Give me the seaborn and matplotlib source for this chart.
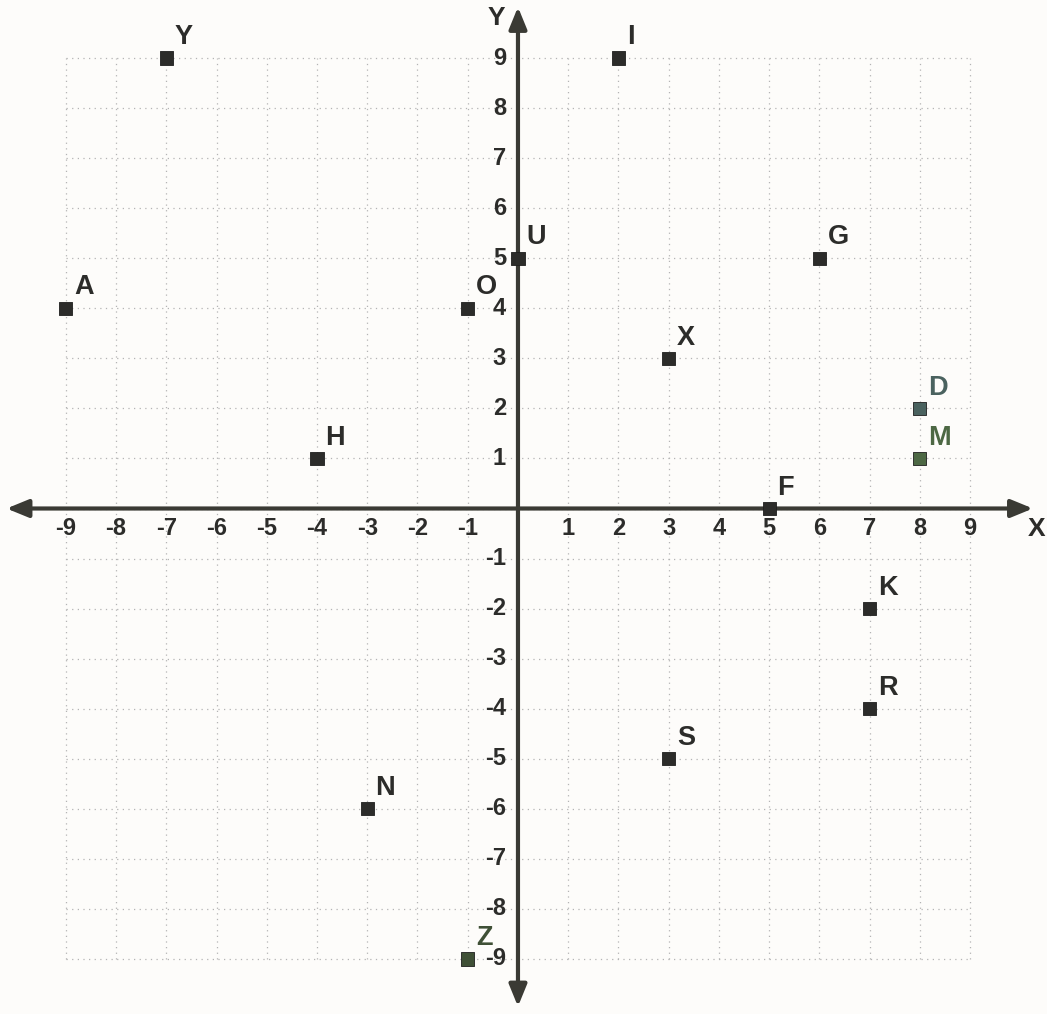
import matplotlib
matplotlib.use("Agg")
import matplotlib.pyplot as plt
import seaborn as sns
import pandas as pd

# ---- data ----
labels = ["Y", "I", "U", "G", "A", "O", "X", "D", "M", "H", "F", "K", "R", "S", "N", "Z"]
x_vals = [-7, 2, 0, 6, -9, -1, 3, 8, 8, -4, 5, 7, 7, 3, -3, -1]
y_vals = [9, 9, 5, 5, 4, 4, 3, 2, 1, 1, 0, -2, -4, -5, -6, -9]
x_ticks = [-9, -8, -7, -6, -5, -4, -3, -2, -1, 1, 2, 3, 4, 5, 6, 7, 8, 9]
y_ticks = [9, 8, 7, 6, 5, 4, 3, 2, 1, -1, -2, -3, -4, -5, -6, -7, -8, -9]
grid_range = list(range(-9, 10))

# per-label tint (scan colours)
tints = {"D": "#4a625f", "M": "#4d6844", "Z": "#3f5036"}
default_col = "#2c2c2a"

df = pd.DataFrame({"label": labels, "x": x_vals, "y": y_vals})
df["col"] = [tints.get(l, default_col) for l in labels]

sns.set_theme(style="white")
plt.rcParams["font.family"] = ["Liberation Sans", "DejaVu Sans"]

bg = "#fdfcfa"
fig = plt.figure(figsize=(10.47, 10.14), dpi=100, facecolor=bg)
ax = fig.add_axes([0, 0, 1, 1])
ax.set_facecolor(bg)
ax.set_xlim(-10.31, 10.53)
ax.set_ylim(-10.10, 10.16)
ax.axis("off")

# grid (dotted, light)
gmin, gmax = min(grid_range), max(grid_range)
for g in grid_range:
    ax.plot([g, g], [gmin, gmax], color="#b4b4b4", lw=0.9, ls=(0, (1, 3.5)), zorder=1)
    ax.plot([gmin, gmax], [g, g], color="#b4b4b4", lw=0.9, ls=(0, (1, 3.5)), zorder=1)

# axes with arrows
axis_col = "#3a3a34"
ax.annotate("", xy=(10.25, 0), xytext=(-10.18, 0),
            arrowprops=dict(arrowstyle="<|-|>,head_length=1.1,head_width=0.45",
                            color=axis_col, lw=3.0, shrinkA=0, shrinkB=0), zorder=3)
ax.annotate("", xy=(0, 10.02), xytext=(0, -9.95),
            arrowprops=dict(arrowstyle="<|-|>,head_length=1.1,head_width=0.45",
                            color=axis_col, lw=3.0, shrinkA=0, shrinkB=0), zorder=3)

# axis letters
ax.text(10.33, -0.40, "X", fontsize=19, fontweight="bold", color="#2c2c2a",
        ha="center", va="center")
ax.text(-0.43, 9.80, "Y", fontsize=19, fontweight="bold", color="#2c2c2a",
        ha="center", va="center")

# tick labels
for t in x_ticks:
    ax.text(t, -0.40, f"{t}", fontsize=17, fontweight="bold", color="#2c2c2a",
            ha="center", va="center")
for t in y_ticks:
    ax.text(-0.24, t, f"{t}", fontsize=17, fontweight="bold", color="#2c2c2a",
            ha="right", va="center")

# points
sns.scatterplot(data=df, x="x", y="y", marker="s", s=90, c=df["col"],
                edgecolor="#1e1e1e", linewidth=0.6, ax=ax, zorder=5, legend=False)

for _, r in df.iterrows():
    ax.annotate(r["label"], (r["x"], r["y"]), xytext=(6, 15), textcoords="offset points",
                fontsize=19.5, fontweight="bold", color=r["col"], ha="left", va="center",
                zorder=6)

ax.set_xlim(-10.31, 10.53)
ax.set_ylim(-10.10, 10.16)
ax.axis("off")
fig.savefig("out.png", dpi=100, facecolor=bg)
